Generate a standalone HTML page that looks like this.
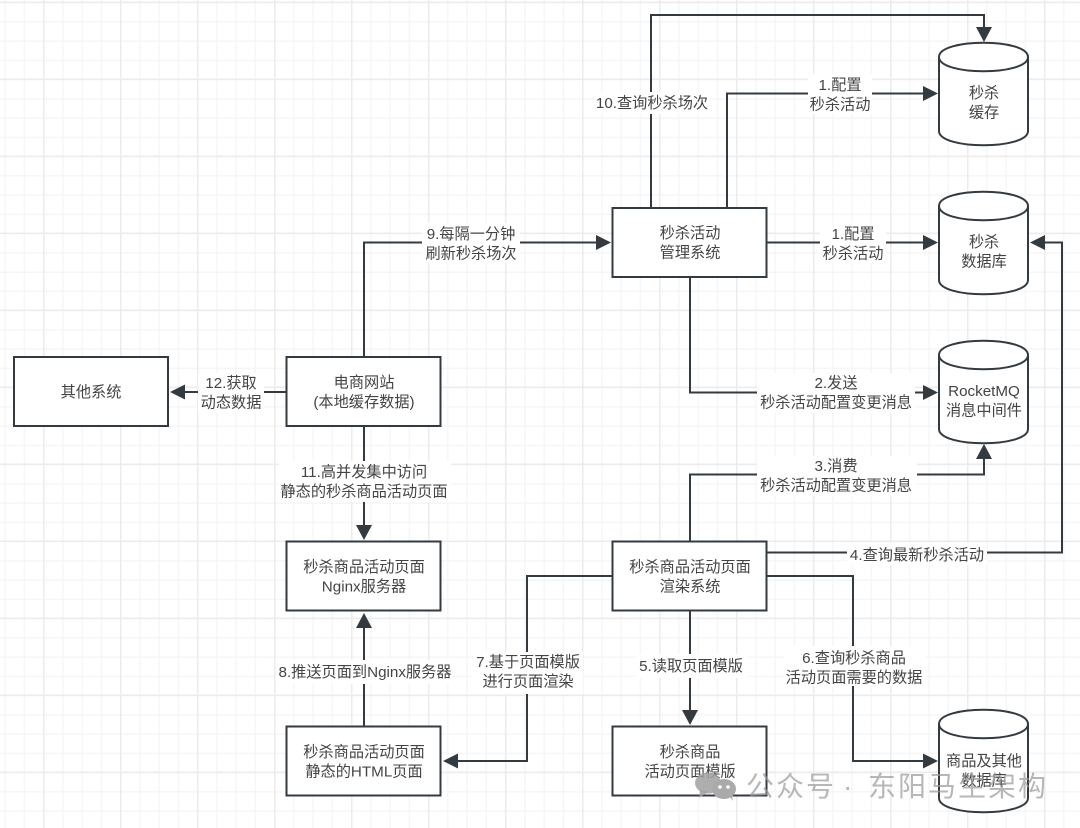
<!DOCTYPE html>
<html><head><meta charset="utf-8"><style>
html,body{margin:0;padding:0;background:#fff;width:1080px;height:828px;overflow:hidden}
svg{display:block}
text{font-family:"Liberation Sans","Noto Sans CJK SC",sans-serif;font-size:15.2px;fill:#444;text-anchor:middle}
.l{fill:none;stroke:#333a40;stroke-width:2}
.b{fill:#fff;stroke:#333a40;stroke-width:2}
.a{fill:#333a40}
.w{font-size:28px;fill:#999;fill-opacity:.7;text-anchor:start}
</style></head><body>
<svg width="1080" height="828" viewBox="0 0 1080 828" xmlns="http://www.w3.org/2000/svg">
<defs>
<pattern id="gm" x="4.5" y="2" width="19.25" height="19.25" patternUnits="userSpaceOnUse">
<path d="M0.5 0V19.25M0 0.5H19.25" fill="none" stroke="#f4f4f4" stroke-width="1.4"/>
</pattern>
<pattern id="gj" x="43" y="1.5" width="77" height="77" patternUnits="userSpaceOnUse">
<path d="M0.75 0V77M0 0.75H77" fill="none" stroke="#ececec" stroke-width="1.6"/>
</pattern>
</defs>
<rect width="1080" height="828" fill="#fff"/>
<rect width="1080" height="828" fill="url(#gm)"/>
<rect width="1080" height="828" fill="url(#gj)"/>

<!-- connectors -->
<path class="l" d="M651 208V15H984V30"/>
<path class="l" d="M727 208V93.500H926"/>
<path class="l" d="M767 242.500H926"/>
<path class="l" d="M767 552.500H1062V242.500H1042"/>
<path class="l" d="M690 277V392.500H926"/>
<path class="l" d="M690 541V474.500H984V456"/>
<path class="l" d="M612 576H527V761H455"/>
<path class="l" d="M767 576H853V761H926"/>
<path class="l" d="M690 611V713"/>
<path class="l" d="M364 726V625"/>
<path class="l" d="M364 426V528"/>
<path class="l" d="M286 392H182"/>
<path class="l" d="M364 357V242.500H599"/>

<!-- arrowheads -->
<path class="a" d="M976 27H992L984 42Z"/>
<path class="a" d="M923 86L938 93.500L923 101Z"/>
<path class="a" d="M923 235L938 242.500L923 250Z"/>
<path class="a" d="M1045 235L1030 242.500L1045 250Z"/>
<path class="a" d="M923 385L938 392.500L923 400Z"/>
<path class="a" d="M976 459H992L984 444Z"/>
<path class="a" d="M458 753.500L443 761L458 768.500Z"/>
<path class="a" d="M923 753.500L938 761L923 768.500Z"/>
<path class="a" d="M682 710H698L690 725Z"/>
<path class="a" d="M356 628H372L364 613Z"/>
<path class="a" d="M356 525H372L364 540Z"/>
<path class="a" d="M185 384.500L170 392L185 399.500Z"/>
<path class="a" d="M596 235L611 242.500L596 250Z"/>

<!-- boxes -->
<rect class="b" x="14" y="357" width="154" height="69"/>
<rect class="b" x="286.500" y="357" width="154" height="69"/>
<rect class="b" x="612.500" y="208" width="154" height="69"/>
<rect class="b" x="286.500" y="541.500" width="154" height="69"/>
<rect class="b" x="286.500" y="726.500" width="154" height="69"/>
<rect class="b" x="612.500" y="541.500" width="154" height="69"/>
<rect class="b" x="612.500" y="726.500" width="154" height="69"/>

<!-- cylinders -->
<g>
<path class="b" d="M939 57C939 38 1028 38 1028 57V131C1028 150 939 150 939 131Z"/>
<path class="l" d="M939 57C939 76 1028 76 1028 57"/>
</g>
<g>
<path class="b" d="M939 206C939 187 1028 187 1028 206V280C1028 299 939 299 939 280Z"/>
<path class="l" d="M939 206C939 225 1028 225 1028 206"/>
</g>
<g>
<path class="b" d="M939 355C939 336 1028 336 1028 355V429C1028 448 939 448 939 429Z"/>
<path class="l" d="M939 355C939 374 1028 374 1028 355"/>
</g>
<g>
<path class="b" d="M939 724C939 705 1028 705 1028 724V798C1028 817 939 817 939 798Z"/>
<path class="l" d="M939 724C939 743 1028 743 1028 724"/>
</g>

<!-- label backgrounds -->
<g fill="#fff">
<rect x="808" y="74" width="64" height="40"/>
<rect x="596" y="92" width="114" height="22"/>
<rect x="820" y="223" width="66" height="40"/>
<rect x="422" y="223" width="98" height="40"/>
<rect x="198" y="373" width="66" height="40"/>
<rect x="279" y="461" width="172" height="41"/>
<rect x="757" y="373" width="158" height="40"/>
<rect x="757" y="456" width="160" height="40"/>
<rect x="847" y="543" width="140" height="22"/>
<rect x="636" y="654" width="112" height="24"/>
<rect x="784" y="646" width="142" height="40"/>
<rect x="473" y="652" width="110" height="42"/>
<rect x="276" y="660" width="177" height="24"/>
</g>

<!-- node text -->
<text x="91" y="397">其他系统</text>
<text x="364" y="387.500">电商网站</text><text x="364" y="407">(本地缓存数据)</text>
<text x="690" y="238">秒杀活动</text><text x="690" y="257.500">管理系统</text>
<text x="364" y="572">秒杀商品活动页面</text><text x="364" y="591.500">Nginx服务器</text>
<text x="364" y="757">秒杀商品活动页面</text><text x="364" y="776.500">静态的HTML页面</text>
<text x="690" y="572">秒杀商品活动页面</text><text x="690" y="591.500">渲染系统</text>
<text x="690" y="757">秒杀商品</text><text x="690" y="776.500">活动页面模版</text>
<text x="984" y="98">秒杀</text><text x="984" y="117.500">缓存</text>
<text x="984" y="247">秒杀</text><text x="984" y="266.500">数据库</text>
<text x="984" y="396">RocketMQ</text><text x="984" y="415.500">消息中间件</text>
<text x="984" y="766">商品及其他</text><text x="984" y="785.500">数据库</text>

<!-- edge text -->
<text x="840" y="90">1.配置</text><text x="840" y="109.500">秒杀活动</text>
<text x="652" y="108">10.查询秒杀场次</text>
<text x="853" y="239">1.配置</text><text x="853" y="258.500">秒杀活动</text>
<text x="471" y="239">9.每隔一分钟</text><text x="471" y="258.500">刷新秒杀场次</text>
<text x="231" y="388">12.获取</text><text x="231" y="407.500">动态数据</text>
<text x="364" y="477">11.高并发集中访问</text><text x="364" y="496.500">静态的秒杀商品活动页面</text>
<text x="836" y="388">2.发送</text><text x="836" y="407.500">秒杀活动配置变更消息</text>
<text x="836" y="471">3.消费</text><text x="836" y="490.500">秒杀活动配置变更消息</text>
<text x="917" y="560">4.查询最新秒杀活动</text>
<text x="691" y="671">5.读取页面模版</text>
<text x="854" y="663">6.查询秒杀商品</text><text x="854" y="682.500">活动页面需要的数据</text>
<text x="528" y="667">7.基于页面模版</text><text x="528" y="686.500">进行页面渲染</text>
<text x="365" y="677">8.推送页面到Nginx服务器</text>

<!-- watermark -->
<g fill="#a0a0a0" fill-opacity=".85">
<ellipse cx="708" cy="783" rx="13" ry="10.500"/>
<path d="M700 790L699 798L708 792Z"/>
</g>
<g fill="#aaa">
<ellipse cx="724" cy="789" rx="12" ry="10"/>
<path d="M729 796L733 801L731 793Z"/>
</g>
<circle cx="720" cy="787" r="1.800" fill="#fff"/><circle cx="728" cy="787" r="1.800" fill="#fff"/>
<text class="w" x="746" y="796" style="letter-spacing:2px">公众号</text>
<text class="w" x="843" y="796">·</text>
<text class="w" x="868" y="796" style="letter-spacing:2px">东阳马生架构</text>
</svg>
</body></html>
